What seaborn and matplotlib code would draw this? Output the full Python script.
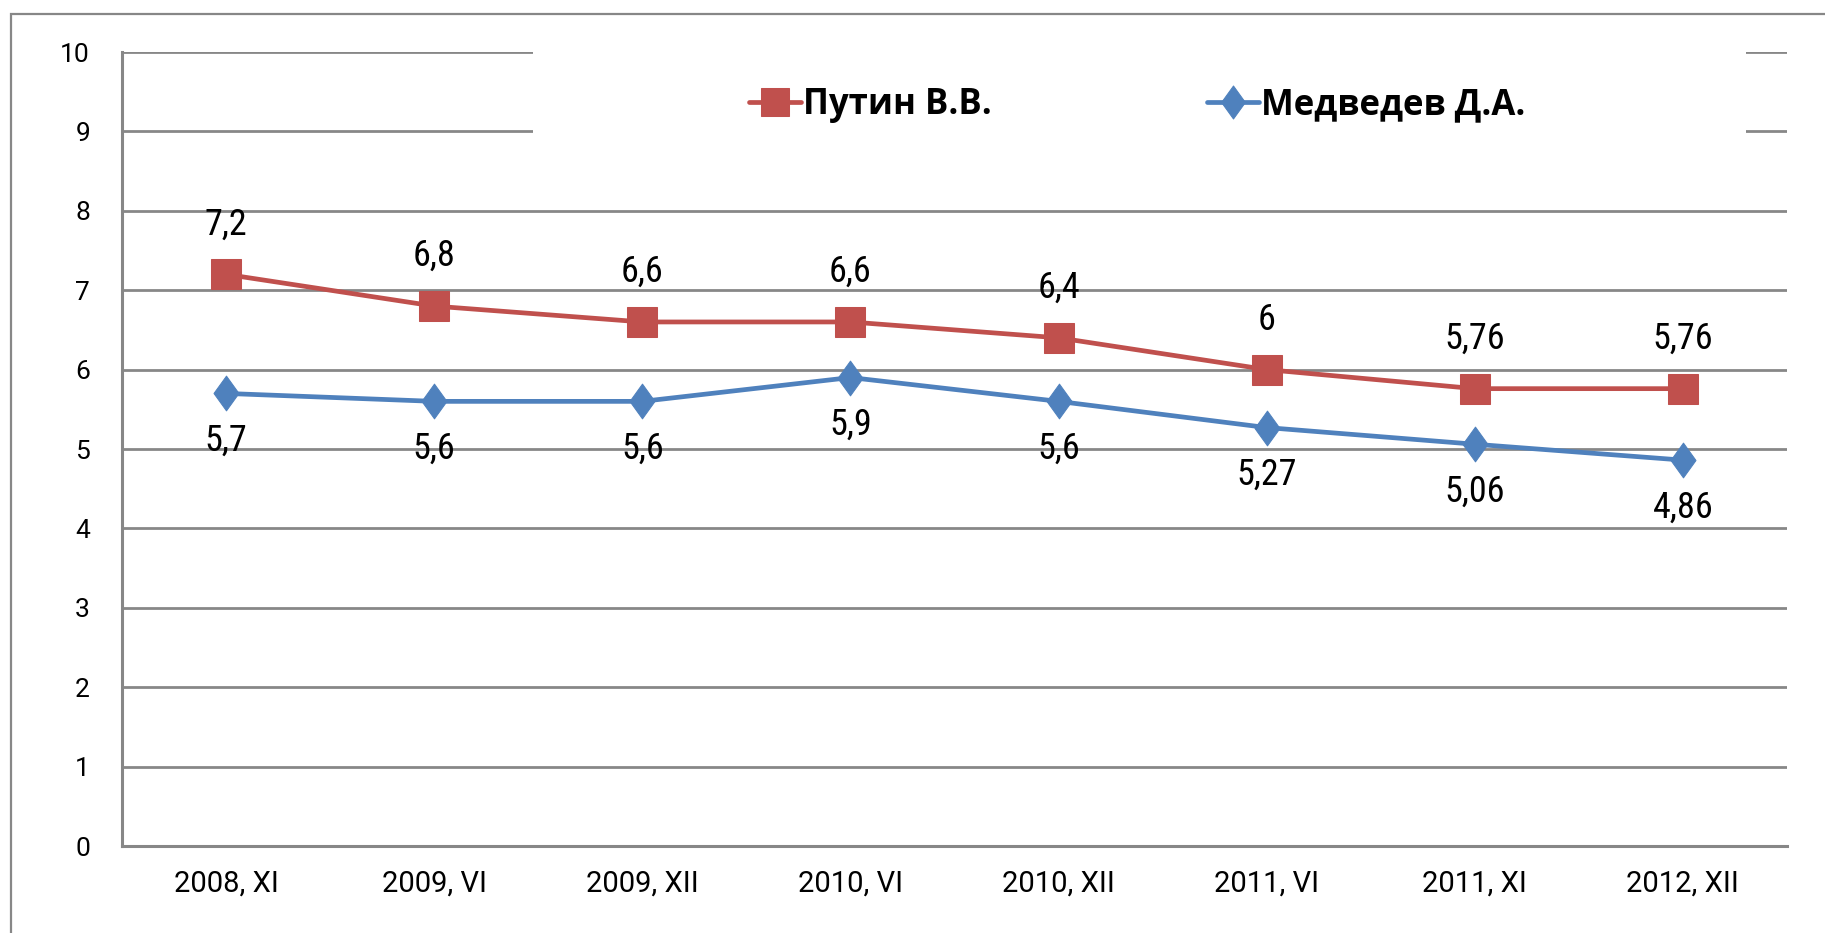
import matplotlib
matplotlib.use("Agg")
import matplotlib.pyplot as plt
import matplotlib.patches as mpatches
from matplotlib.path import Path
import seaborn as sns
import numpy as np

categories = ["2008, XI", "2009, VI", "2009, XII", "2010, VI",
              "2010, XII", "2011, VI", "2011, XI", "2012, XII"]
putin = [7.2, 6.8, 6.6, 6.6, 6.4, 6.0, 5.76, 5.76]
medvedev = [5.7, 5.6, 5.6, 5.9, 5.6, 5.27, 5.06, 4.86]
putin_labels = ["7,2", "6,8", "6,6", "6,6", "6,4", "6", "5,76", "5,76"]
medvedev_labels = ["5,7", "5,6", "5,6", "5,9", "5,6", "5,27", "5,06", "4,86"]
series_names = ["Путин В.В.", "Медведев Д.А."]
y_ticks = [0, 1, 2, 3, 4, 5, 6, 7, 8, 9, 10]

sns.set_theme(style="white")
narrow = ["Liberation Sans Narrow", "Roboto Condensed", "DejaVu Sans"]
plt.rcParams["font.family"] = narrow
plt.rcParams["font.stretch"] = "condensed"

W, H = 1825, 933
fig = plt.figure(figsize=(W / 100, H / 100), dpi=100)
left, right, top, bottom = 122, 1787, 52, 846
ax = fig.add_axes([left / W, 1 - bottom / H, (right - left) / W, (bottom - top) / H])

grey = "#878787"
red = "#C0504D"
blue = "#4F81BD"

diamond = Path([(0, 1), (0.72, 0), (0, -1), (-0.72, 0), (0, 1)],
               [Path.MOVETO, Path.LINETO, Path.LINETO, Path.LINETO, Path.CLOSEPOLY])

x = np.arange(len(categories))
sns.lineplot(x=x, y=putin, ax=ax, color=red, marker="s", markersize=21,
             markeredgecolor=red, linewidth=3.4, label=series_names[0], zorder=3)
sns.lineplot(x=x, y=medvedev, ax=ax, color=blue, marker=diamond, markersize=25,
             markeredgecolor=blue, linewidth=3.4, label=series_names[1], zorder=3)

for xi, v, t in zip(x, putin, putin_labels):
    ax.annotate(t, (xi, v), xytext=(0, 36), textcoords="offset points",
                ha="center", va="center", fontsize=26, color="black")
for xi, v, t in zip(x, medvedev, medvedev_labels):
    ax.annotate(t, (xi, v), xytext=(0, -34), textcoords="offset points",
                ha="center", va="center", fontsize=26, color="black")

ytick_font = {"family": ["Roboto", "DejaVu Sans"], "stretch": "normal", "size": 19}
xtick_font = {"family": ["Roboto", "DejaVu Sans"], "stretch": "normal", "size": 21}

ax.set_xlim(-0.5, len(categories) - 0.5)
ax.set_ylim(0, 10)
ax.set_yticks(y_ticks)
ax.set_yticklabels([str(v) for v in y_ticks], fontdict=ytick_font)
ax.set_xticks(x)
ax.set_xticklabels(categories, fontdict=xtick_font)
ax.set_xticks(np.arange(-0.5, len(categories)), minor=True)
ax.tick_params(axis="x", which="major", length=0, pad=17, labelcolor="black")
ax.tick_params(axis="x", which="minor", length=8, width=2, color=grey, direction="out")
ax.tick_params(axis="y", which="major", length=10, width=2, color=grey, direction="out",
               pad=13, labelcolor="black")

ax.grid(axis="y", color=grey, linewidth=2)
ax.grid(axis="x", visible=False)
ax.set_axisbelow(True)
for s in ["top", "right"]:
    ax.spines[s].set_visible(False)
for s in ["left", "bottom"]:
    ax.spines[s].set_color(grey)
    ax.spines[s].set_linewidth(2.2)
ax.set_xlabel("")
ax.set_ylabel("")

# white box behind legend covering gridlines
box = mpatches.Rectangle((533 / W, 1 - 165 / H), (1746 - 533) / W, (165 - 25) / H,
                         transform=fig.transFigure, facecolor="white",
                         edgecolor="none", zorder=2.5, clip_on=False)
ax.add_patch(box)

leg = ax.legend(loc="center", bbox_to_anchor=(1137 / W, 1 - 105 / H),
                bbox_transform=fig.transFigure, ncol=2, frameon=False,
                prop={"family": ["Open Sans", "DejaVu Sans"], "weight": "bold",
                      "size": 25, "stretch": "normal"},
                handlelength=1.5, handletextpad=0.05, columnspacing=6.2,
                markerscale=0.95)
for t in leg.get_texts():
    t.set_color("black")
leg.set_zorder(5)

# outer frame
frame = mpatches.Rectangle((10.5 / W, -0.05), 1.2, 1 - 14 / H + 0.05,
                           transform=fig.transFigure, facecolor="none",
                           edgecolor=grey, linewidth=1.6, clip_on=False)
fig.patches.append(frame)

fig.savefig("out.png", dpi=100, facecolor="white")
